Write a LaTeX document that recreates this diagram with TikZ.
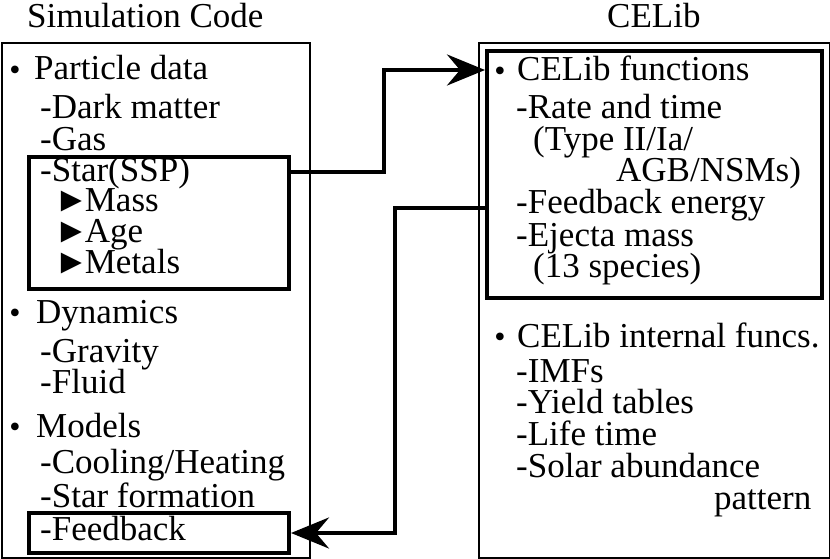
\documentclass[tikz,border=0pt]{standalone}
\usepackage{fontspec}
\setmainfont{Liberation Serif}
\usetikzlibrary{arrows.meta}
\begin{document}
\begin{tikzpicture}[x=1pt,y=-1pt,
  txt/.style={anchor=base west,inner sep=0pt,font=\fontsize{35}{35}\selectfont},
  dot/.style={anchor=center,inner sep=0pt,font=\fontsize{32}{32}\selectfont},
  thinbox/.style={draw,line width=1.7pt,anchor=north west,inner sep=0pt},
  thickbox/.style={draw,line width=4pt,anchor=north west,inner sep=0pt},
  conn/.style={line width=4pt,-{Stealth[length=38pt,width=31pt,inset=13pt]}}]
\useasboundingbox (0,0) rectangle (830,559);
% boxes
\node[thinbox,minimum width=308pt,minimum height=515pt] (left) at (1,42) {};
\node[thinbox,minimum width=350.5pt,minimum height=515pt] (right) at (478,42) {};
\node[thickbox,minimum width=260pt,minimum height=132pt] (star) at (27,155) {};
\node[thickbox,minimum width=260pt,minimum height=40pt] (fb) at (27,511) {};
\node[thickbox,minimum width=335pt,minimum height=247pt] (inner) at (485,49) {};
% titles
\node[txt] (tl) at (27,28) {Simulation Code};
\node[txt] (tr) at (607,28) {CELib};
% left column
\node[dot] (b1) at (15,73) {•};
\node[txt] (l1) at (34,80) {Particle data};
\node[txt] (l2) at (40,119) {-Dark matter};
\node[txt] (l3) at (40,150) {-Gas};
\node[txt] (l4) at (40,182) {-Star(SSP)};
\node[txt] (l5) at (54,211) {►\kern-4pt Mass};
\node[txt] (l6) at (54,242) {►\kern-4pt Age};
\node[txt] (l7) at (54,273) {►\kern-4pt Metals};
\node[dot] (b2) at (15,316) {•};
\node[txt] (l8) at (36,323) {Dynamics};
\node[txt] (l9) at (40,362) {-Gravity};
\node[txt] (l10) at (40,393) {-Fluid};
\node[dot] (b3) at (15,430) {•};
\node[txt] (l11) at (36,437) {Models};
\node[txt] (l12) at (40,473) {-Cooling/Heating};
\node[txt] (l13) at (40,507) {-Star formation};
\node[txt] (l14) at (40,540) {-Feedback};
% right column
\node[dot] (b4) at (500,74) {•};
\node[txt] (r1) at (517,81) {CELib functions};
\node[txt] (r2) at (516,119) {-Rate and time};
\node[txt] (r3) at (533,151) {(Type II/Ia/};
\node[txt] (r4) at (616,182) {AGB/NSMs)};
\node[txt] (r5) at (516,213) {-Feedback energy};
\node[txt] (r6) at (516,246) {-Ejecta mass};
\node[txt] (r7) at (533,277) {(13 species)};
\node[dot] (b5) at (500,340) {•};
\node[txt] (r8) at (517,347) {CELib internal funcs.};
\node[txt] (r9) at (516,382) {-IMFs};
\node[txt] (r10) at (516,413) {-Yield tables};
\node[txt] (r11) at (516,445) {-Life time};
\node[txt] (r12) at (516,477) {-Solar abundance};
\node[txt] (r13) at (714,509) {pattern};
% connectors
\draw[conn] ([yshift=-17pt]star.north east) -- ++(93,0) |- ([yshift=-21pt]inner.north west);
\draw[conn] ([yshift=-159pt]inner.north west) -- ++(-90,0) |- ([yshift=-22pt]fb.north east);
\end{tikzpicture}
\end{document}
